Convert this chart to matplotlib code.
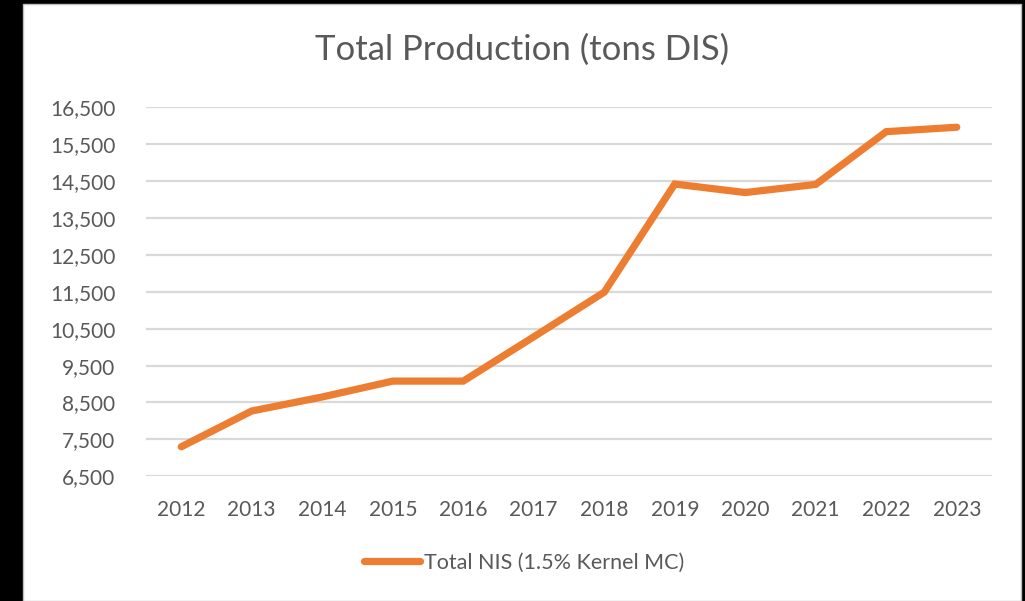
import matplotlib
matplotlib.use("Agg")
import matplotlib.pyplot as plt
from matplotlib.patches import Rectangle
from matplotlib.ticker import FuncFormatter

# Données
years = ["2012", "2013", "2014", "2015", "2016", "2017",
         "2018", "2019", "2020", "2021", "2022", "2023"]
production = [7300, 8270, 8650, 9080, 9080, 10280,
              11490, 14420, 14190, 14410, 15840, 15960]
yticks = [6500, 7500, 8500, 9500, 10500, 11500, 12500, 13500, 14500, 15500, 16500]

plt.rcParams['font.family'] = ['Lato', 'DejaVu Sans']
grey = '#595959'
W, H = 1025, 601

fig = plt.figure(figsize=(W / 100, H / 100), dpi=100, facecolor='black')

# Panneau blanc du graphique (sous les axes)
fig.patches.append(Rectangle((23 / W, 0), (1021 - 23) / W, 1 - 4 / H,
                             transform=fig.transFigure, facecolor='white',
                             edgecolor='#bfbfbf', linewidth=1, zorder=-10))

ax = fig.add_axes([146 / W, 1 - 476.3 / H, (992 - 146) / W, (476.3 - 107.3) / H])
ax.set_facecolor('none')
ax.set_zorder(1)

x = list(range(len(years)))
ax.plot(x, production, color='#ED7D31', linewidth=5.2, solid_capstyle='round',
        solid_joinstyle='miter', label='Total NIS (1.5% Kernel MC)')

ax.set_xlim(-0.5, len(years) - 0.5)
ax.set_ylim(6500, 16500)
ax.set_yticks(yticks)
ax.yaxis.set_major_formatter(FuncFormatter(lambda v, p: f"{int(v):,}"))
ax.set_xticks(x)
ax.set_xticklabels(years)

ax.grid(axis='y', color='#d9d9d9', linewidth=1.6)
ax.set_axisbelow(True)
for s in ax.spines.values():
    s.set_visible(False)
ax.tick_params(axis='both', length=0, colors=grey, labelsize=15)
ax.tick_params(axis='y', pad=22)
ax.tick_params(axis='x', pad=17)

fig.text(522 / W, 1 - 50 / H, 'Total Production (tons DIS)', ha='center', va='center',
         fontsize=25, color=grey)

leg = ax.legend(loc='center', bbox_to_anchor=(524 / W, 1 - 563 / H),
                bbox_transform=fig.transFigure, frameon=False, fontsize=15.5,
                handlelength=2.6, handletextpad=0.2)
for t in leg.get_texts():
    t.set_color(grey)

fig.savefig('out.png', dpi=100, facecolor=fig.get_facecolor())
